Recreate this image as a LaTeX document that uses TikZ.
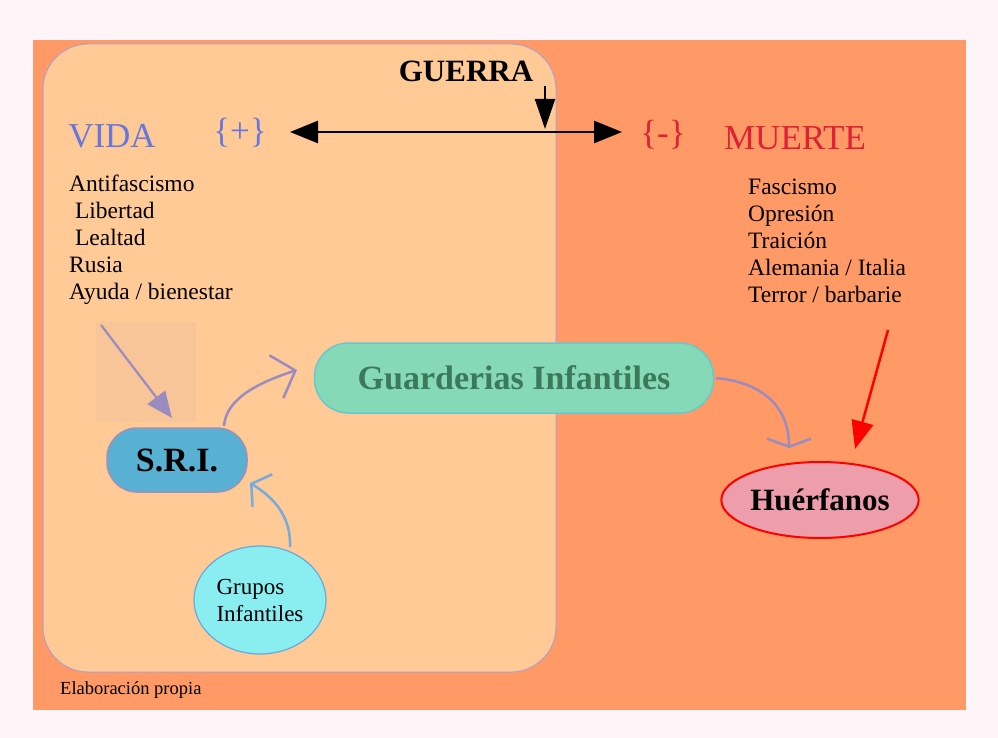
\documentclass[tikz,border=0pt]{standalone}
\usepackage{fontspec}
\setmainfont{Liberation Serif}
\usetikzlibrary{arrows.meta,shapes.geometric}
\definecolor{pagebg}{HTML}{FFF4F8}
\definecolor{orangebg}{HTML}{FF9966}
\definecolor{peach}{HTML}{FFCA96}
\definecolor{shadebox}{HTML}{F8C598}
\definecolor{lilacline}{HTML}{B0A0C8}
\definecolor{vidablue}{HTML}{6677DD}
\definecolor{muerred}{HTML}{DD2233}
\definecolor{sriblue}{HTML}{58B0D2}
\definecolor{sriline}{HTML}{A090B8}
\definecolor{guardfill}{HTML}{86D9B6}
\definecolor{guardline}{HTML}{66C8D0}
\definecolor{guardtext}{HTML}{3A7A5A}
\definecolor{huerfill}{HTML}{EE9DAA}
\definecolor{grupfill}{HTML}{8AEEF0}
\definecolor{grupline}{HTML}{66AADD}
\definecolor{arrlilac}{HTML}{9A8CC0}
\definecolor{arrblue}{HTML}{77AADD}
\tikzset{
  bigtxt/.style={font=\fontsize{35}{38}\selectfont},
  listtxt/.style={font=\fontsize{23.5}{27}\selectfont, align=left, inner sep=0pt, anchor=north west},
}
\begin{document}
\begin{tikzpicture}[x=1pt,y=-1pt]
\fill[pagebg] (0,0) rectangle (998,738);
\useasboundingbox (0,0) rectangle (998,738);
\fill[orangebg] (33,40) rectangle (966,710);
\draw[line width=1pt, draw=lilacline, fill=peach, rounded corners=45pt] (43,44) rectangle (556,672);
\fill[shadebox] (96,322) rectangle (196,422);

% headings
\node[font=\fontsize{31}{36}\selectfont\bfseries, inner sep=0pt] (guerra) at (466,71) {GUERRA};
\node[bigtxt, text=vidablue, inner sep=0pt] (vida) at (112,136) {VIDA};
\node[bigtxt, text=vidablue, inner sep=0pt] (plus) at (240,133) {\{+\}};
\node[bigtxt, text=muerred, inner sep=0pt] (minus) at (663,135) {\{-\}};
\node[bigtxt, text=muerred, inner sep=0pt] (muerte) at (795,138) {MUERTE};

\coordinate (dl) at (290,132);
\coordinate (dr) at (622,132);
\draw[line width=2.8pt, {Triangle[length=28pt,width=22pt]}-{Triangle[length=28pt,width=22pt]}] (dl) -- (dr);
\coordinate (gtop) at (545,86);
\coordinate (gbot) at (545,129);
\draw[line width=2pt, -{Triangle[length=30pt,width=20pt]}] (gtop) -- (gbot);

% lists
\node[listtxt] (vlist) at (69,175) {Antifascismo\\ \ Libertad\\ \ Lealtad\\Rusia\\Ayuda / bienestar};
\node[listtxt] (mlist) at (748,179) {Fascismo\\Opresión\\Traición\\Alemania / Italia\\Terror / barbarie};

% nodes
\node[draw=sriline, line width=1.5pt, fill=sriblue, rounded corners=30pt, minimum width=140pt, minimum height=64pt, font=\fontsize{34}{38}\selectfont\bfseries] (sri) at (177,460) {S.R.I.};
\node[draw=guardline, line width=1.5pt, fill=guardfill, rounded corners=34pt, minimum width=399pt, minimum height=70pt, text=guardtext, font=\fontsize{34}{38}\selectfont\bfseries] (guard) at (514,378) {Guarderias Infantiles};
\node[ellipse, draw=red, line width=2pt, fill=huerfill, inner sep=0pt, minimum width=192pt, minimum height=76pt, font=\fontsize{31}{36}\selectfont\bfseries] (huer) at (820,500) {Huérfanos};
\node[ellipse, draw=grupline, line width=1.2pt, fill=grupfill, inner sep=0pt, minimum width=132pt, minimum height=108pt, align=left, font=\fontsize{23}{27}\selectfont] (grup) at (260,600) {Grupos\\Infantiles};

\node[anchor=west, inner sep=0pt, font=\fontsize{18.5}{21}\selectfont] (elab) at (60,690) {Elaboración propia};

% connectors
\coordinate (sa) at (101,325);
\coordinate (sriin) at (172,418);
\draw[arrlilac, line width=2.2pt, -{Triangle[length=26pt,width=22pt]}] (sa) -- (sriin);
\coordinate (srout) at (224,426);
\coordinate (guardin) at (297,370);
\draw[arrlilac, line width=2.5pt, -{Straight Barb[length=20pt,width=45pt]}] (srout) .. controls (226,398) and (260,382) .. (guardin);
\coordinate (guardout) at (716,378);
\coordinate (huerin) at (789,448);
\draw[arrlilac, line width=2.5pt, -{Straight Barb[length=8pt,width=44pt]}] (guardout) .. controls (760,382) and (789,405) .. (huerin);
\coordinate (grupout) at (290,547);
\coordinate (sriin2) at (250,483);
\draw[arrblue, line width=2.5pt, -{Straight Barb[length=13pt,width=38pt]}] (grupout) .. controls (291,520) and (278,500) .. (sriin2);
\coordinate (ra) at (888,330);
\coordinate (huerin2) at (855,449);
\draw[red, line width=2.5pt, -{Triangle[length=28pt,width=22pt]}] (ra) -- (huerin2);
\end{tikzpicture}
\end{document}
